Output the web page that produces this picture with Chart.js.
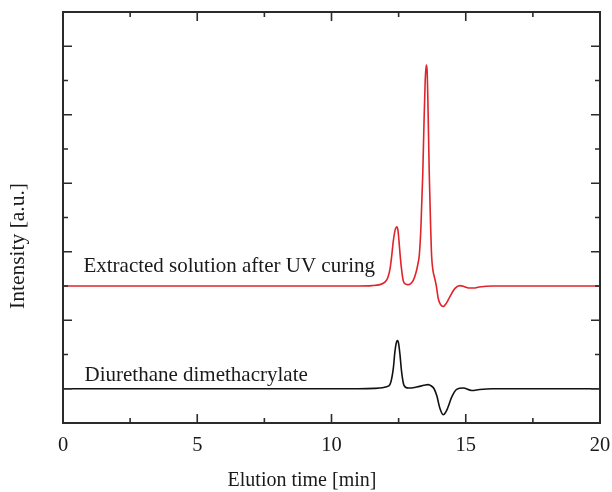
<!DOCTYPE html>
<html>
<head>
<meta charset="utf-8">
<script src="https://cdn.jsdelivr.net/npm/chart.js@4.4.1/dist/chart.umd.min.js"></script>
<style>
  html, body { margin: 0; padding: 0; background: #fff; }
  #wrap { width: 612px; height: 492px; }
</style>
</head>
<body>
<div id="wrap"><canvas id="chart" width="612" height="492"></canvas></div>
<script>
// elution time [min] and intensity (offset, arbitrary units)
const redTime = [0, 5, 8, 10, 11, 11.5, 11.8, 12.0, 12.1, 12.18, 12.24, 12.3, 12.36, 12.4, 12.43, 12.47, 12.51, 12.55, 12.6, 12.67, 12.75, 12.85, 12.95, 13.05, 13.15, 13.22, 13.27, 13.33, 13.4, 13.44, 13.49, 13.53, 13.56, 13.59, 13.64, 13.69, 13.73, 13.78, 13.83, 13.9, 13.98, 14.06, 14.16, 14.28, 14.41, 14.6, 14.79, 14.95, 15.1, 15.3, 15.5, 16, 18, 20];
const redValue = [3.0, 3.0, 3.0, 3.0, 3.0, 3.01, 3.04, 3.12, 3.25, 3.5, 3.86, 4.3, 4.6, 4.7, 4.73, 4.65, 4.35, 3.96, 3.55, 3.16, 3.06, 3.04, 3.07, 3.17, 3.4, 3.65, 3.9, 4.7, 6.3, 7.6, 9.0, 9.45, 9.3, 8.4, 6.3, 4.8, 3.86, 3.45, 3.27, 3.02, 2.62, 2.46, 2.4, 2.5, 2.69, 2.93, 3.01, 2.98, 2.94, 2.94, 2.97, 3.0, 3.0, 3.0];

const blackTime = [0, 5, 10, 11, 11.6, 11.9, 12.05, 12.18, 12.3, 12.36, 12.42, 12.46, 12.5, 12.55, 12.61, 12.7, 12.86, 13.17, 13.45, 13.6, 13.72, 13.82, 13.92, 14.04, 14.16, 14.29, 14.48, 14.66, 14.91, 15.22, 15.52, 16, 18, 20];
const blackValue = [0, 0, 0, 0, 0.01, 0.03, 0.06, 0.13, 0.58, 1.07, 1.36, 1.41, 1.32, 1.0, 0.5, 0.1, 0.02, 0.05, 0.1, 0.12, 0.08, 0.0, -0.2, -0.58, -0.76, -0.63, -0.24, -0.02, 0.02, -0.05, -0.02, 0, 0, 0];

const xMajorTicks = [0, 5, 10, 15, 20];
const seriesLabels = ["Extracted solution after UV curing", "Diurethane dimethacrylate"];

const FONT = "'Liberation Serif', 'Times New Roman', serif";

function toPoints(xs, ys) {
  return xs.map((x, i) => ({ x: x, y: ys[i] }));
}

// inward ticks on all four sides, frame, axis titles and in-plot labels
const framePlugin = {
  id: "frame",
  afterDraw(chart) {
    const { ctx, chartArea: a, scales } = chart;
    const xs = scales.x;
    const ys = scales.y;
    ctx.save();
    ctx.strokeStyle = "#2b2b2b";
    ctx.lineWidth = 2;
    ctx.strokeRect(a.left, a.top, a.right - a.left, a.bottom - a.top);

    ctx.lineWidth = 1.6;
    ctx.beginPath();
    xs.ticks.forEach((t) => {
      if (t.value <= xs.min || t.value >= xs.max) return;
      const px = xs.getPixelForValue(t.value);
      const len = xMajorTicks.includes(t.value) ? 9 : 5;
      ctx.moveTo(px, a.bottom);
      ctx.lineTo(px, a.bottom - len);
      ctx.moveTo(px, a.top);
      ctx.lineTo(px, a.top + len);
    });
    ys.ticks.forEach((t) => {
      if (t.value <= ys.min || t.value >= ys.max) return;
      const py = ys.getPixelForValue(t.value);
      const len = t.value % 2 === 0 ? 9 : 5;
      ctx.moveTo(a.left, py);
      ctx.lineTo(a.left + len, py);
      ctx.moveTo(a.right, py);
      ctx.lineTo(a.right - len, py);
    });
    ctx.stroke();

    ctx.fillStyle = "#1a1a1a";
    ctx.font = "21px " + FONT;
    ctx.textBaseline = "alphabetic";
    ctx.textAlign = "left";
    ctx.fillText(seriesLabels[0], xs.getPixelForValue(0.76), ys.getPixelForValue(3.42));
    ctx.fillText(seriesLabels[1], xs.getPixelForValue(0.8), ys.getPixelForValue(0.23));

    // x axis title (sits left of the plot centre in the original)
    ctx.font = "20px " + FONT;
    ctx.textAlign = "center";
    ctx.textBaseline = "middle";
    ctx.fillText("Elution time [min]", 302, 481);

    // y axis title
    ctx.font = "21.5px " + FONT;
    ctx.translate(18, 246);
    ctx.rotate(-Math.PI / 2);
    ctx.fillText("Intensity [a.u.]", 0, 0);
    ctx.restore();
  },
};

new Chart(document.getElementById("chart"), {
  type: "line",
  data: {
    datasets: [
      {
        label: seriesLabels[0],
        data: toPoints(redTime, redValue),
        borderColor: "#e0242c",
        borderWidth: 1.6,
        pointRadius: 0,
        tension: 0.4,
        cubicInterpolationMode: "monotone",
      },
      {
        label: seriesLabels[1],
        data: toPoints(blackTime, blackValue),
        borderColor: "#111111",
        borderWidth: 1.6,
        pointRadius: 0,
        tension: 0.4,
        cubicInterpolationMode: "monotone",
      },
    ],
  },
  options: {
    responsive: false,
    animation: false,
    layout: { padding: { left: 63, right: 12, top: 12, bottom: 0 } },
    plugins: {
      legend: { display: false },
      tooltip: { enabled: false },
    },
    scales: {
      x: {
        type: "linear",
        min: 0,
        max: 20,
        grid: { display: false, drawTicks: false },
        border: { display: false },
        ticks: {
          stepSize: 2.5,
          padding: 10,
          color: "#1a1a1a",
          font: { family: FONT, size: 20.5 },
          maxRotation: 0,
          callback: (v) => (xMajorTicks.includes(v) ? String(v) : ""),
        },
        title: { display: false },
        afterFit: (s) => {
          s.height = 69;
          s.paddingLeft = 0;
          s.paddingRight = 0;
        },
      },
      y: {
        type: "linear",
        min: -1,
        max: 11,
        grid: { display: false, drawTicks: false },
        border: { display: false },
        ticks: { stepSize: 1, display: false },
        afterFit: (s) => {
          s.width = 0;
          s.paddingTop = 0;
          s.paddingBottom = 0;
        },
      },
    },
  },
  plugins: [framePlugin],
});
</script>
</body>
</html>
